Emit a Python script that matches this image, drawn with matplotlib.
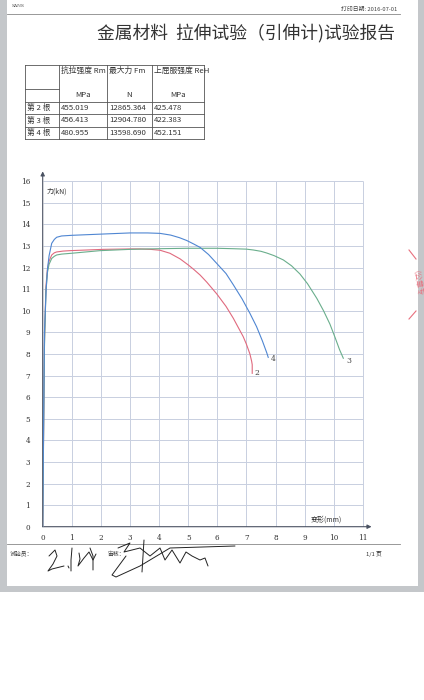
import matplotlib
matplotlib.use("Agg")
import matplotlib.pyplot as plt
from matplotlib.lines import Line2D
from matplotlib.patches import Rectangle

plt.rcParams['font.family'] = ['Noto Sans CJK SC', 'DejaVu Sans']

W, H = 424, 700

col_header = ["抗拉强度 Rm", "最大力 Fm", "上屈服强度 ReH"]
col_units = ["MPa", "N", "MPa"]
row_names = ["第 2 根", "第 3 根", "第 4 根"]
rm_vals = ["455.019", "456.413", "480.955"]
fm_vals = ["12865.364", "12904.780", "13598.690"]
reh_vals = ["425.478", "422.383", "452.151"]

x_ticks = list(range(0, 12))
y_ticks = list(range(0, 17))

# corpo de prova 2 (vermelho)
x2 = [0, 0.06, 0.11, 0.16, 0.22, 0.31, 0.40, 0.48, 0.70, 0.94, 2.08, 3.00, 3.34, 3.70, 4.03,
      4.37, 4.72, 5.00, 5.20, 5.41, 5.64, 5.98, 6.30, 6.55, 6.75, 6.89, 7.00, 7.12, 7.18, 7.20, 7.20]
y2 = [0, 8.5, 11.1, 11.9, 12.3, 12.58, 12.68, 12.72, 12.76, 12.78, 12.84, 12.86, 12.86, 12.84, 12.80,
      12.66, 12.40, 12.12, 11.90, 11.65, 11.32, 10.78, 10.20, 9.65, 9.15, 8.80, 8.45, 8.00, 7.66, 7.50, 7.10]

# corpo de prova 3 (verde)
x3 = [0, 0.06, 0.11, 0.16, 0.22, 0.31, 0.40, 0.48, 0.65, 1.00, 1.97, 3.00, 4.00, 4.95, 5.98, 6.55,
      7.00, 7.24, 7.50, 7.70, 7.95, 8.27, 8.55, 8.84, 9.10, 9.42, 9.65, 9.87, 10.05, 10.20, 10.33]
y3 = [0, 8.3, 10.9, 11.75, 12.15, 12.42, 12.52, 12.58, 12.62, 12.66, 12.78, 12.84, 12.87, 12.89, 12.89, 12.87,
      12.85, 12.81, 12.75, 12.67, 12.55, 12.35, 12.08, 11.70, 11.25, 10.57, 10.00, 9.38, 8.75, 8.20, 7.80]

# corpo de prova 4 (azul)
x4 = [0, 0.06, 0.12, 0.17, 0.22, 0.31, 0.40, 0.48, 0.65, 1.00, 2.08, 3.00, 3.60, 4.03, 4.40,
      4.70, 4.95, 5.20, 5.41, 5.70, 5.98, 6.30, 6.55, 6.85, 7.12, 7.35, 7.55, 7.70, 7.75]
y4 = [0, 9.0, 11.0, 12.0, 12.55, 13.12, 13.30, 13.40, 13.46, 13.49, 13.55, 13.60, 13.60, 13.58, 13.50,
      13.38, 13.25, 13.08, 12.93, 12.60, 12.19, 11.72, 11.20, 10.55, 9.88, 9.26, 8.60, 8.05, 7.84]


def fx(px):
    return px / W


def fy(py):
    return 1 - py / H


def fline(fig, xs, ys, color="#555555", lw=0.6, **kw):
    fig.add_artist(Line2D([fx(v) for v in xs], [fy(v) for v in ys], color=color, lw=lw, **kw))


def ftext(fig, px, py, s, **kw):
    fig.text(fx(px), fy(py), s, **kw)


fig = plt.figure(figsize=(W / 100, H / 100), dpi=100)
fig.patch.set_facecolor("white")

# borda cinza do scanner
gray = "#c4c7ca"
fig.add_artist(Rectangle((fx(0), fy(592)), fx(7), 592 / H, color=gray, lw=0))
fig.add_artist(Rectangle((fx(418), fy(592)), fx(6), 592 / H, color=gray, lw=0))
fig.add_artist(Rectangle((fx(0), fy(592)), 1, 6 / H, color=gray, lw=0))

# cabecalho
ftext(fig, 12, 6, "SANS", fontsize=3.2, color="#444444", va="center", family="DejaVu Serif")
ftext(fig, 397, 9, "打印日期: 2016-07-01", fontsize=4.2, color="#444444", va="center", ha="right")
fline(fig, [7, 400], [14, 14], color="#888888", lw=0.6)
ftext(fig, 395, 33, "金属材料  拉伸试验（引伸计)试验报告", fontsize=12.8, color="#333333",
      va="center", ha="right")

# tabela
tcol = [25, 59, 107, 152, 204]
fline(fig, [tcol[0], tcol[-1]], [65, 65])
fline(fig, [tcol[0], tcol[1]], [89, 89])
for yy in [101.5, 114, 126.5, 139]:
    fline(fig, [tcol[0], tcol[-1]], [yy, yy])
for xx in tcol:
    fline(fig, [xx, xx], [65, 139])

fs_tab = 5.6
for i, s in enumerate(col_header):
    ftext(fig, tcol[i + 1] + 2, 71, s, fontsize=fs_tab, va="center", color="#333333")
for i, s in enumerate(col_units):
    ftext(fig, (tcol[i + 1] + tcol[i + 2]) / 2, 95, s, fontsize=fs_tab, va="center", ha="center",
          color="#333333")
for r, name in enumerate(row_names):
    yy = 108 + r * 12.5
    ftext(fig, 27, yy, name, fontsize=fs_tab, va="center", color="#333333")
    for c, vals in enumerate([rm_vals, fm_vals, reh_vals]):
        ftext(fig, tcol[c + 1] + 2, yy, vals[r], fontsize=fs_tab, va="center", color="#333333")

# grafico forca x deformacao
x_max, y_max = 11.3, 16.5
ax = fig.add_axes([42.7 / W, (H - 526.7) / H, x_max * 29.1 / W, y_max * 21.6 / H])
ax.set_xlim(0, x_max)
ax.set_ylim(0, y_max)
for sp in ax.spines.values():
    sp.set_visible(False)
ax.patch.set_alpha(0)

grid_c = "#c8cfe0"
ax.vlines(x_ticks[1:], 0, y_ticks[-1], color=grid_c, lw=0.7, zorder=1)
ax.hlines(y_ticks[1:], 0, x_ticks[-1], color=grid_c, lw=0.7, zorder=1)

axis_c = "#4a5262"
ax.annotate("", xy=(0, 16.45), xytext=(0, 0),
            arrowprops=dict(arrowstyle="-|>", color=axis_c, lw=0.8, mutation_scale=6, shrinkA=0, shrinkB=0))
ax.annotate("", xy=(11.3, 0), xytext=(0, 0),
            arrowprops=dict(arrowstyle="-|>", color=axis_c, lw=0.8, mutation_scale=6, shrinkA=0, shrinkB=0))

ax.set_xticks(x_ticks)
ax.set_yticks(y_ticks)
ax.tick_params(length=0, labelsize=5.2, colors="#333333", pad=5)
ax.tick_params(axis="y", pad=9)
for lab in ax.get_xticklabels() + ax.get_yticklabels():
    lab.set_family("DejaVu Serif")

line_kw = dict(lw=0.8, zorder=3, solid_joinstyle="round")
ax.plot(x2, y2, color="#e06a7e", **line_kw)
ax.plot(x3, y3, color="#6aae8c", **line_kw)
ax.plot(x4, y4, color="#4f86d2", **line_kw)

ax.text(x2[-1] + 0.08, y2[-1], "2", fontsize=5.5, color="#444444", va="center", family="DejaVu Serif")
ax.text(x3[-1] + 0.12, y3[-1] - 0.12, "3", fontsize=5.5, color="#444444", va="center", family="DejaVu Serif")
ax.text(x4[-1] + 0.08, y4[-1] - 0.06, "4", fontsize=5.5, color="#444444", va="center", family="DejaVu Serif")

ax.text(0.15, 15.5, "力(kN)", fontsize=5, color="#333333", va="center")
ax.text(9.2, 0.35, "变形(mm)", fontsize=5, color="#333333", va="center")

# rodape
fline(fig, [7, 400], [543.5, 543.5], color="#888888", lw=0.6)
ftext(fig, 10, 554, "试验员：", fontsize=4.2, va="center", color="#333333")
ftext(fig, 107, 554, "审核：", fontsize=4.2, va="center", color="#333333")
ftext(fig, 366, 554, "1/1 页", fontsize=4.2, va="center", color="#333333")

# assinaturas (rabiscos a mao)
sig = dict(color="#222222", lw=0.7, solid_capstyle="round")
fline(fig, [49, 55, 57, 53, 48, 52, 60, 64], [556, 550, 556, 564, 571, 569, 567, 566], **sig)
fline(fig, [68, 69], [566, 568], **sig)
fline(fig, [72, 71, 71], [548, 560, 571], **sig)
fline(fig, [79, 80, 78, 84, 89, 93, 96], [553, 559, 566, 558, 552, 560, 554], **sig)
fline(fig, [90, 93, 93], [548, 556, 570], **sig)
fline(fig, [118, 130, 124, 140, 150, 160, 165, 172, 180, 186, 192, 200, 205, 208],
      [548, 543, 552, 548, 556, 548, 560, 550, 563, 552, 556, 560, 558, 566], **sig)
fline(fig, [126, 112, 116, 140, 170, 235], [556, 575, 577, 566, 548, 546], **sig)
fline(fig, [144, 143, 142], [540, 556, 572], **sig)

# carimbo vermelho cortado na borda
stamp = "#e8707e"
fline(fig, [409, 416], [250, 259], color=stamp, lw=0.8)
fline(fig, [409, 416], [319, 311], color=stamp, lw=0.8)
ftext(fig, 413, 285, "（公章专", fontsize=5.5, color=stamp, rotation=-80, ha="center", va="center")

fig.savefig("out.png", dpi=100)
